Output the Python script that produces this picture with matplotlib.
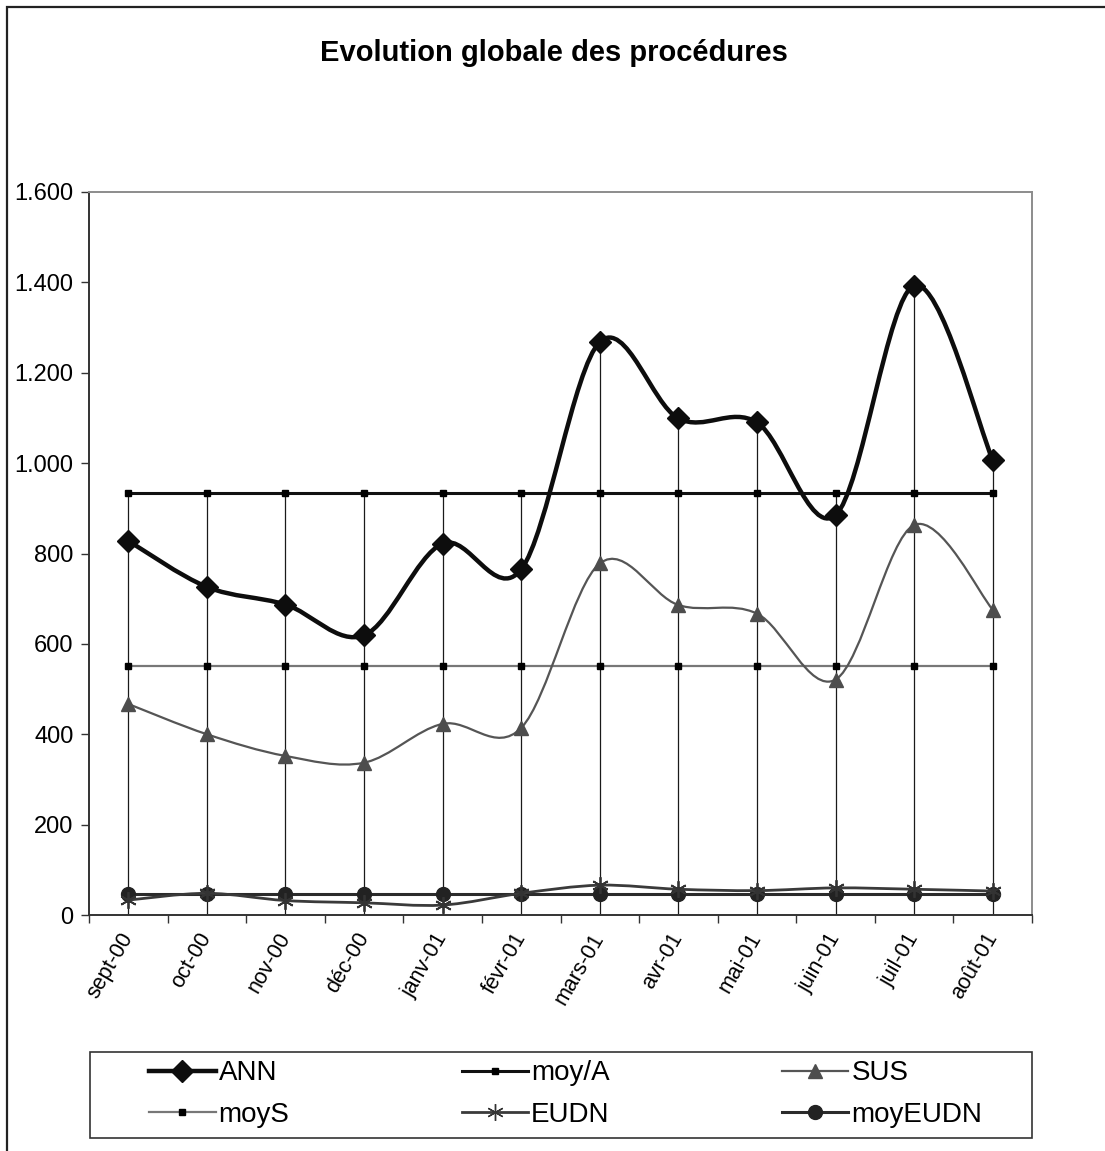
"""
Evolution globale des procédures (sept-00 .. août-01), Excel-style line chart
with smoothed series, monthly averages and drop lines.
"""
import matplotlib
matplotlib.use("Agg")
import matplotlib.pyplot as plt
import matplotlib.ticker as mticker
import matplotlib.transforms as mtransforms
from matplotlib.path import Path
from matplotlib.patches import PathPatch, Rectangle
from matplotlib.lines import Line2D
import numpy as np

plt.rcParams["font.family"] = ["Liberation Sans", "DejaVu Sans"]

# ── Data ──────────────────────────────────────────────────────────────────────
months = ["sept-00", "oct-00", "nov-00", "déc-00", "janv-01", "févr-01",
          "mars-01", "avr-01", "mai-01", "juin-01", "juil-01", "août-01"]

ann = [828, 726, 687, 619, 822, 765, 1268, 1099, 1090, 885, 1393, 1007]
sus = [467, 400, 352, 337, 423, 414, 778, 686, 667, 521, 863, 676]
eudn = [33, 48, 32, 27, 22, 48, 66, 57, 54, 60, 57, 53]

moy_a = 934
moy_s = 551
moy_eudn = 47

x = np.arange(len(months))
W, H = 1105, 1151


def smooth_path(xs, ys):
    """Bezier path through the points, Excel 'smoothed line' style."""
    pts = np.column_stack([xs, ys]).astype(float)
    n = len(pts)
    verts = [pts[0]]
    codes = [Path.MOVETO]
    for i in range(n - 1):
        p0 = pts[max(i - 1, 0)]
        p1 = pts[i]
        p2 = pts[i + 1]
        p3 = pts[min(i + 2, n - 1)]
        c1 = p1 + (p2 - p0) / 6.0
        c2 = p2 - (p3 - p1) / 6.0
        verts += [c1, c2, p2]
        codes += [Path.CURVE4] * 3
    return Path(verts, codes)


fig = plt.figure(figsize=(W / 100, H / 100), dpi=100)
ax = fig.add_axes([89 / W, 1 - 915 / H, 943 / W, 723 / H])

# drop lines from the highest point of each month down to the axis
tops = np.maximum(np.maximum(ann, moy_a), sus)
ax.vlines(x, 0, tops, color="#1a1a1a", lw=0.9, zorder=1)

# averages
ax.plot(x, [moy_a] * len(x), color="#111111", lw=2.2, marker="s", ms=4.5,
        mfc="black", mec="black", zorder=3)
ax.plot(x, [moy_s] * len(x), color="#777777", lw=1.6, marker="s", ms=4.5,
        mfc="black", mec="black", zorder=3)
ax.plot(x, [moy_eudn] * len(x), color="#2b2b2b", lw=2.2, marker="o", ms=10,
        mfc="#222222", mec="#222222", zorder=3)

# smoothed series
ax.add_patch(PathPatch(smooth_path(x, sus), fc="none", ec="#555555", lw=1.6, zorder=4))
ax.plot(x, sus, ls="none", marker="^", ms=10, mfc="#4d4d4d", mec="#4d4d4d", zorder=5)

ax.add_patch(PathPatch(smooth_path(x, eudn), fc="none", ec="#3a3a3a", lw=2.0, zorder=4))
ax.plot(x, eudn, ls="none", marker=(6, 2, 0), ms=12, mec="#333333", mew=1.3, zorder=5)

ax.add_patch(PathPatch(smooth_path(x, ann), fc="none", ec="#0d0d0d", lw=3.2, zorder=6))
ax.plot(x, ann, ls="none", marker="D", ms=11.5, mfc="#0d0d0d", mec="#0d0d0d", zorder=7)

# axes
ax.set_xlim(-0.5, len(x) - 0.5)
ax.set_ylim(0, 1600)
ax.yaxis.set_major_locator(mticker.MultipleLocator(200))
ax.yaxis.set_major_formatter(
    mticker.FuncFormatter(lambda v, _: f"{int(v):,}".replace(",", ".")))
ax.set_xticks(x)
ax.set_xticklabels(months, rotation=60, ha="right", va="center",
                   rotation_mode="anchor", fontsize=15.5)
shift = mtransforms.ScaledTranslation(6 / 72, 0, fig.dpi_scale_trans)
for lbl in ax.get_xticklabels():
    lbl.set_transform(lbl.get_transform() + shift)
ax.set_xticks(np.arange(-0.5, len(x)), minor=True)
ax.tick_params(axis="x", which="major", length=0, pad=14)
ax.tick_params(axis="x", which="minor", length=6, width=1, color="#333333",
               direction="out")
ax.tick_params(axis="y", length=6, width=1, color="#333333", labelsize=17, pad=5)
for s in ("left", "bottom"):
    ax.spines[s].set_color("#333333")
    ax.spines[s].set_linewidth(1.4)
for s in ("top", "right"):
    ax.spines[s].set_color("#8c8c8c")
    ax.spines[s].set_linewidth(1.4)

fig.text(554 / W, 1 - 53 / H, "Evolution globale des procédures",
         ha="center", va="center", fontsize=21, fontweight="bold")

# legend below the plot area, in its own box
fig.patches.append(Rectangle((90 / W, 1 - 1138 / H), 942 / W, 86 / H,
                             transform=fig.transFigure, fill=False,
                             ec="#333333", lw=1.2))
handles = [
    Line2D([0], [0], color="#0d0d0d", lw=3.2, marker="D", ms=11, label="ANN"),
    Line2D([0], [0], color="#777777", lw=1.6, marker="s", ms=4.5,
           mfc="black", mec="black", label="moyS"),
    Line2D([0], [0], color="#111111", lw=2.2, marker="s", ms=4.5,
           mfc="black", mec="black", label="moy/A"),
    Line2D([0], [0], color="#3a3a3a", lw=2.0, marker=(6, 2, 0), ms=12,
           mec="#333333", label="EUDN"),
    Line2D([0], [0], color="#555555", lw=1.6, marker="^", ms=10,
           mfc="#4d4d4d", mec="#4d4d4d", label="SUS"),
    Line2D([0], [0], color="#2b2b2b", lw=2.2, marker="o", ms=10,
           mfc="#222222", mec="#222222", label="moyEUDN"),
]
fig.legend(handles=handles, ncol=3, loc="center left",
           bbox_to_anchor=(149 / W, 1 - 1094 / H),
           bbox_transform=fig.transFigure, fontsize=20, frameon=False,
           handlelength=2.4, handletextpad=0.1, columnspacing=6.2,
           borderpad=0, labelspacing=0.55, borderaxespad=0)

# outer chart frame (runs off the bottom and right edges)
fig.patches.append(Rectangle((7 / W, -0.2), 1.5, 0.2 + 1 - 6.5 / H,
                             transform=fig.transFigure, fill=False,
                             ec="#222222", lw=1.6))

fig.savefig("out.png", dpi=100)
